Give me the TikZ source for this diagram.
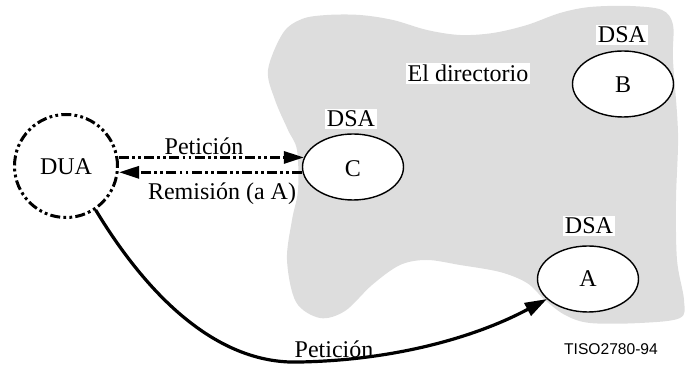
\documentclass[tikz,border=0pt]{standalone}
\usepackage{fontspec}
\setmainfont{Liberation Serif}
\newfontfamily\labelsans{Liberation Sans}
\usetikzlibrary{arrows.meta,shapes.geometric}
\definecolor{blobgray}{RGB}{221,221,221}
\tikzset{
  dsa/.style={ellipse,draw=black,line width=0.7pt,fill=white,inner sep=0pt,minimum width=50.5pt,minimum height=33pt},
  lbl/.style={anchor=base,inner sep=1pt,font=\fontsize{12}{14}\selectfont},
  wlbl/.style={lbl,fill=white},
  dashdotdot/.style={line width=1.5pt,dash pattern=on 5pt off 1.6pt on 1.4pt off 1.6pt on 1.4pt off 1.6pt},
  tip/.style={-{Triangle[length=10pt,width=6pt]}},
}
\begin{document}
\begin{tikzpicture}[x=0.5pt,y=-0.5pt]
\useasboundingbox (0,0) rectangle (686,367);
% directory cloud
\fill[blobgray] plot[smooth cycle,tension=0.55] coordinates {
 (283,33) (302,19) (327,15) (360,15) (393,20) (427,30) (460,35) (493,33)
 (527,25) (560,13) (590,7) (630,6) (662,10) (673,25) (673,60) (678,133)
 (676,200) (677,260) (684,300) (680,318) (640,323) (590,323) (565,315)
 (545,300) (527,283) (500,272) (460,265) (427,260) (400,265) (372,285)
 (345,311) (320,318) (296,302) (287,260) (292,220) (298,190) (297,150)
 (288,130) (275,100) (268,70)};
% nodes
\node[dsa] (c) at (353,167) {};
\node[dsa] (b) at (623,84) {};
\node[dsa] (a) at (588,279) {};
\node[circle,draw=black,dashdotdot,minimum size=51.5pt,inner sep=0pt] (dua) at (66,166) {};
\node[lbl] (tdua) at (66,175) {DUA};
\node[lbl] (tc) at (353,177) {C};
\node[lbl] (tb) at (623,93) {B};
\node[lbl] (ta) at (588,287) {A};
\node[wlbl] (dsac) at (351,127) {DSA};
\node[wlbl] (dsab) at (622,43) {DSA};
\node[wlbl] (dsaa) at (589,234) {DSA};
\node[wlbl] (dir) at (468,82) {El directorio};
\node[lbl] (pet1) at (204,155) {Petición};
\node[lbl] (rem) at (222,200) {Remisión (a A)};
\node[lbl] (pet2) at (334,358) {Petición};
\node[anchor=base,inner sep=0pt,font=\labelsans\fontsize{7.8}{9}\selectfont] (tiso) at (611,355) {TISO2780-94};
% connectors
\draw[dashdotdot,tip] (dua.east |- c.169) -- (c.169);
\draw[dashdotdot,tip] (c.186) -- (dua.east |- c.186);
\coordinate (low) at (300,362);
\draw[line width=1.6pt,-{Triangle[length=11pt,width=7pt]}] (dua.-56) .. controls (150,300) and (220,365) .. (low)
  .. controls (400,360) and (480,335) .. (a.206);
\end{tikzpicture}
\end{document}
